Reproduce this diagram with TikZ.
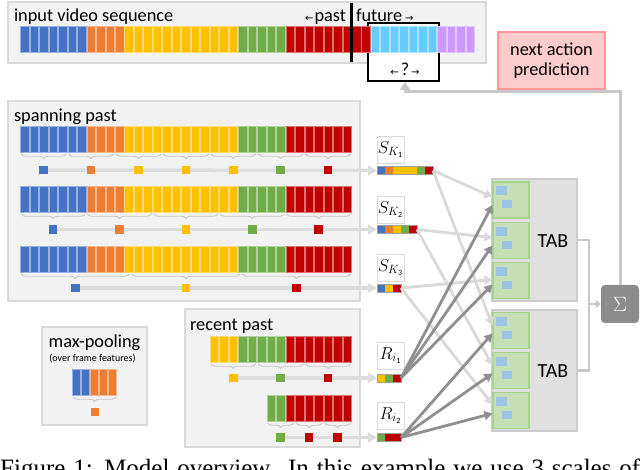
\documentclass[tikz,border=0pt]{standalone}
\usepackage{fontspec}
\setmainfont{Carlito}
\newfontfamily\arrowfont{DejaVu Sans}
\newfontfamily\capfont{Liberation Serif}
\usetikzlibrary{arrows.meta,calc,decorations.pathreplacing}
\pgfdeclarelayer{back}
\pgfdeclarelayer{mid}
\pgfsetlayers{back,mid,main}
\definecolor{cB}{HTML}{4472C4}
\definecolor{cO}{HTML}{ED7D31}
\definecolor{cY}{HTML}{FFC000}
\definecolor{cG}{HTML}{70AD47}
\definecolor{cR}{HTML}{C00000}
\definecolor{cC}{HTML}{66CCFF}
\definecolor{cP}{HTML}{CC99FF}
\definecolor{panelfill}{HTML}{F2F2F2}
\definecolor{paneldraw}{HTML}{D9D9D9}
\definecolor{tabfill}{HTML}{E0E0E0}
\definecolor{tabdraw}{HTML}{CCCCCC}
\definecolor{subfill}{HTML}{C5E0B4}
\definecolor{subdraw}{HTML}{A9D18E}
\definecolor{minib}{HTML}{9DC3E6}
\definecolor{predfill}{HTML}{FFCCCC}
\definecolor{preddraw}{HTML}{FF9999}
\definecolor{lightline}{HTML}{D9D9D9}
\definecolor{rowline}{HTML}{DDDDDD}
\definecolor{darkline}{HTML}{8F8F8F}
\definecolor{sumfill}{HTML}{8C8C8C}
\definecolor{feedline}{HTML}{C8C8C8}
\def\toplist{B,B,B,B,B,B,B,O,O,O,O,Y,Y,Y,Y,Y,Y,Y,Y,Y,Y,Y,Y,G,G,G,G,G,R,R,R,R,R,R,R,R,R,C,C,C,C,C,C,C,P,P,P,P}
\def\pastlist{B,B,B,B,B,B,B,O,O,O,O,Y,Y,Y,Y,Y,Y,Y,Y,Y,Y,Y,Y,G,G,G,G,G,R,R,R,R,R,R,R}
\def\recentA{Y,Y,Y,G,G,G,G,G,R,R,R,R,R,R,R}
\def\recentB{G,G,R,R,R,R,R,R,R}
\newcommand\framerow[3]{%
  \foreach \cl [count=\i from 0] in #3 {%
    \filldraw[frm, fill=c\cl, draw=c\cl!55!white] ({#1+\i*9.48+0.5},#2) rectangle ++(8.5,26);
  }}
\newcommand\bracerow[4]{%
  \foreach \k in {1,...,#4}{%
    \draw[brc] ({#1+(\k-1)*#3*9.48+1.2},#2) -- ({#1+\k*#3*9.48-1.2},#2);
  }}
\newcommand\featbar[4]{%
  \node[inner sep=0, outer sep=0, minimum width=#3*8pt, minimum height=8pt, anchor=west] (#1) at (377,#2) {};
  \foreach \cl [count=\i from 0] in {#4} \fill[c\cl] ($(#1.west)+(\i*8,-4)$) rectangle ++(8,8);
  \draw[gray!75, line width=0.6pt] (#1.south west) rectangle (#1.north east);}
\newcommand\subbox[2]{%
  \node[sub] (#1) at #2 {};
  \fill[minib] ($(#1.north west)+(4,5)$) rectangle ++(11,9);
  \fill[minib] ($(#1.north west)+(10,19)$) rectangle ++(10,8);}
\newcommand\subidx[1]{\mbox{\fontsize{8}{8}\selectfont #1}}
\newcommand\arw[1]{{\arrowfont\fontsize{10}{10}\selectfont #1}}
\tikzset{
  panel/.style={fill=panelfill, draw=paneldraw, line width=1.5pt},
  frm/.style={line width=0.6pt},
  brc/.style={draw=gray!45, line width=0.9pt, decorate, decoration={brace, mirror, amplitude=4.5pt}},
  sq/.style={minimum size=8.5pt, inner sep=0, outer sep=0},
  txt/.style={inner sep=0, outer sep=0, font=\fontsize{18.3}{20.5}\selectfont},
  lbl/.style={draw=paneldraw, fill=white, line width=0.8pt, minimum width=27pt, minimum height=27pt, inner sep=0, font=\fontsize{17}{17}\selectfont},
  rowconn/.style={draw=rowline, line width=3.5pt, -{Triangle[width=10pt,length=9pt]}},
  lightarr/.style={draw=lightline, line width=2.8pt, -{Triangle[width=9pt,length=8pt]}},
  darkarr/.style={draw=darkline, line width=2.8pt, -{Triangle[width=9pt,length=8pt]}},
  tab/.style={fill=tabfill, draw=tabdraw, line width=1.5pt, inner sep=0, minimum width=85pt},
  sub/.style={fill=subfill, draw=subdraw, line width=1.2pt, minimum width=36pt, minimum height=36pt, inner sep=0},
  sumline/.style={draw=feedline, line width=2.5pt},
  feed/.style={draw=feedline, line width=3pt, -{Triangle[width=10pt,length=8pt]}},
}
\begin{document}
\begin{tikzpicture}[x=1pt,y=-1pt]
\useasboundingbox (0,0) rectangle (640,470);
% panels
\begin{pgfonlayer}{back}
\fill[white] (0,0) rectangle (640,470);
\draw[panel] (8,2) rectangle (486,63);
\draw[panel] (8,101) rectangle (360,301);
\draw[panel] (185,309) rectangle (360,447);
\draw[panel] (42,327) rectangle (147,425);
\end{pgfonlayer}
% top strip
\node[draw=black, line width=2pt, fill=white, minimum width=71pt, minimum height=58pt, inner sep=0] (fwin) at (403.5,52) {};
\framerow{20}{26}{\toplist}
\draw[line width=3pt] (351.5,3) -- (351.5,62);
\node[txt, anchor=base west] (tinput) at (14,21.5) {input video sequence};
\node[txt, anchor=base east] (tpast) at (346,22) {\arw{←}\hspace{1pt}past};
\node[txt, anchor=base west] (tfut) at (356,22) {future\hspace{3pt}\arw{→}};
\node[txt, anchor=base] (tq) at (405,76) {\arw{←}\hspace{2pt}?\hspace{2pt}\arw{→}};
\node[txt, fill=predfill, draw=preddraw, line width=1.2pt, minimum width=107pt, minimum height=57pt, align=center] (pred) at (551.5,60.5) {next action\\prediction};
% spanning past
\node[txt, anchor=base west] (tspan) at (14,121.5) {spanning past};
\framerow{20}{126}{\pastlist}
\framerow{20}{186}{\pastlist}
\framerow{20}{246}{\pastlist}
\bracerow{20}{154}{5}{7}
\bracerow{20}{214}{7}{5}
\bracerow{20}{274}{11.6667}{3}
\node[sq, fill=cB] (r1a) at (43.7,170) {};
\node[sq, fill=cO] (r1b) at (91.1,170) {};
\node[sq, fill=cY] (r1c) at (138.5,170) {};
\node[sq, fill=cY] (r1d) at (185.9,170) {};
\node[sq, fill=cY] (r1e) at (233.3,170) {};
\node[sq, fill=cG] (r1f) at (280.7,170) {};
\node[sq, fill=cR] (r1g) at (328.1,170) {};
\node[sq, fill=cB] (r2a) at (53.2,229.5) {};
\node[sq, fill=cO] (r2b) at (119.5,229.5) {};
\node[sq, fill=cY] (r2c) at (185.9,229.5) {};
\node[sq, fill=cG] (r2d) at (252.3,229.5) {};
\node[sq, fill=cR] (r2e) at (318.6,229.5) {};
\node[sq, fill=cB] (r3a) at (75.3,288) {};
\node[sq, fill=cY] (r3b) at (185.9,288) {};
\node[sq, fill=cR] (r3c) at (296.5,288) {};
% recent past
\node[txt, anchor=base west] (trecent) at (190,330.5) {recent past};
\framerow{209.6}{336}{\recentA}
\framerow{266.5}{395}{\recentB}
\bracerow{209.6}{364}{5}{3}
\bracerow{266.5}{423}{3}{3}
\node[sq, fill=cY] (q1a) at (233.3,378) {};
\node[sq, fill=cG] (q1b) at (280.7,378) {};
\node[sq, fill=cR] (q1c) at (328.1,378) {};
\node[sq, fill=cG] (q2a) at (280.7,437.5) {};
\node[sq, fill=cR] (q2b) at (309.1,437.5) {};
\node[sq, fill=cR] (q2c) at (337.6,437.5) {};
% max pooling legend
\node[txt, anchor=base] (tmax) at (94.5,347.3) {max-pooling};
\node[inner sep=0, anchor=base, font=\fontsize{10}{10}\selectfont] (tover) at (92.5,361) {(over frame features)};
\foreach \cl [count=\i from 0] in {B,B,O,O,O}
  \filldraw[frm, fill=c\cl, draw=c\cl!55!white] ({72+\i*9+0.5},369) rectangle ++(8,26);
\draw[brc] (73,397) -- (116,397);
\node[sq, fill=cO] (mp) at (95,412) {};
% feature bars and labels
\featbar{SK1bar}{170.5}{7}{B,O,Y,Y,Y,G,R}
\featbar{SK2bar}{229.5}{5}{B,O,Y,G,R}
\featbar{SK3bar}{288}{3}{B,Y,R}
\featbar{Ri1bar}{378}{3}{Y,G,R}
\featbar{Ri2bar}{437.5}{3}{G,R,R}
\node[lbl] (SK1) at (390.5,149.5) {$S_{K_{\subidx{1}}}$};
\node[lbl] (SK2) at (390.5,209.5) {$S_{K_{\subidx{2}}}$};
\node[lbl] (SK3) at (390.5,267.5) {$S_{K_{\subidx{3}}}$};
\node[lbl] (Ri1) at (390.5,355.5) {$R_{i_{\subidx{1}}}$};
\node[lbl] (Ri2) at (390.5,415.5) {$R_{i_{\subidx{2}}}$};
% row connectors
\begin{pgfonlayer}{mid}
\draw[rowconn] (r1a.center) -- (SK1bar.west);
\draw[rowconn] (r2a.center) -- (SK2bar.west);
\draw[rowconn] (r3a.center) -- (SK3bar.west);
\draw[rowconn] (q1a.center) -- (Ri1bar.west);
\draw[rowconn] (q2a.center) -- (Ri2bar.west);
\end{pgfonlayer}
% TAB blocks
\node[tab, minimum height=122pt] (TAB1) at (534.5,240) {};
\node[tab, minimum height=121pt] (TAB2) at (534.5,370.5) {};
\subbox{u1}{(511,200)}
\subbox{u2}{(511,240.5)}
\subbox{u3}{(511,280.5)}
\subbox{l1}{(511,330.5)}
\subbox{l2}{(511,370.5)}
\subbox{l3}{(511,410.5)}
\node[txt, font=\fontsize{20}{20}\selectfont] (tab1t) at (553,241) {TAB};
\node[txt, font=\fontsize{20}{20}\selectfont] (tab2t) at (553,371) {TAB};
% arrows into TABs
\draw[lightarr] (SK1bar.east) -- ($(u1.west)+(0,-3)$);
\draw[lightarr] (SK2bar.east) -- ($(u2.west)+(0,-3)$);
\draw[lightarr] (SK3bar.east) -- ($(u3.west)+(0,-1)$);
\draw[lightarr] (SK1bar.east) -- ($(l1.west)+(0,-5)$);
\draw[lightarr] (SK2bar.east) -- ($(l2.west)+(0,-5)$);
\draw[lightarr] (SK3bar.east) -- ($(l3.west)+(0,-6)$);
\draw[darkarr] (Ri1bar.east) -- ($(u1.west)+(0,5)$);
\draw[darkarr] (Ri1bar.east) -- ($(u2.west)+(0,5)$);
\draw[darkarr] (Ri1bar.east) -- ($(u3.west)+(0,4)$);
\draw[darkarr] (Ri2bar.east) -- ($(l1.west)+(0,3)$);
\draw[darkarr] (Ri2bar.east) -- ($(l2.west)+(0,3)$);
\draw[darkarr] (Ri2bar.east) -- ($(l3.west)+(0,3)$);
% sum
\node[fill=sumfill, rounded corners=4pt, minimum size=38pt, inner sep=0, text=white, font=\fontsize{20}{20}\selectfont] (sig) at (620,304) {$\Sigma$};
\coordinate (jn) at (589,304);
\draw[sumline] (TAB1.east) -| (jn);
\draw[sumline] (TAB2.east) -| (jn);
\draw[sumline, -{Triangle[width=7pt,length=5pt]}] (jn) -- (sig.west);
\coordinate (turn) at (405,92);
\draw[feed] (sig.north) |- (turn) -- (fwin.south -| turn);
% caption (cut off at the bottom of the picture)
\begin{scope}
\clip (0,440) rectangle (640,470);
\node[inner sep=0, anchor=base west, font=\capfont\fontsize{25}{25}\selectfont] (cap) at (0,476) {\makebox[640pt][s]{Figure 1: Model overview. In this example we use 3 scales of}};
\end{scope}
\end{tikzpicture}
\end{document}
